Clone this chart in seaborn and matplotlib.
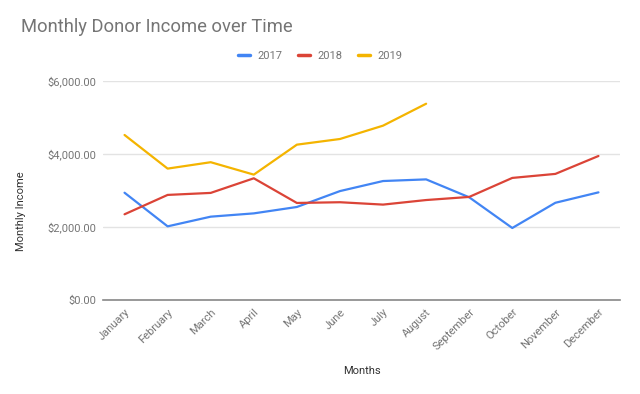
import pandas as pd
import seaborn as sns
import matplotlib.pyplot as plt

# Data
MONTHS = ["January", "February", "March", "April", "May", "June",
          "July", "August", "September", "October", "November", "December"]
INCOME_2017 = [2935, 2015, 2280, 2370, 2545, 2980, 3255, 3300, 2810, 1970, 2660, 2945]
INCOME_2018 = [2345, 2875, 2930, 3330, 2655, 2675, 2610, 2735, 2820, 3340, 3450, 3940]
INCOME_2019 = [4515, 3595, 3770, 3430, 4250, 4405, 4770, 5370]
YEARS = ["2017", "2018", "2019"]
Y_TICKS = [0, 2000, 4000, 6000]

COLORS = {"2017": "#4285F4", "2018": "#DB4437", "2019": "#F4B400"}
TEXT = "#757575"

rows = []
for year, values in zip(YEARS, [INCOME_2017, INCOME_2018, INCOME_2019]):
    for i, v in enumerate(values):
        rows.append({"month": i, "income": v, "year": year})
df = pd.DataFrame(rows)

sns.set_style("white")
plt.rcParams["font.family"] = ["Roboto", "DejaVu Sans"]

fig = plt.figure(figsize=(6.4, 3.94), dpi=100)
ax = fig.add_axes([103 / 640, 1 - 300 / 394, 517 / 640, 219.3 / 394])

sns.lineplot(data=df, x="month", y="income", hue="year", palette=COLORS,
             linewidth=1.6, ax=ax, legend=False)

ax.set_xlim(-0.5, 11.5)
ax.set_ylim(0, 6000)
ax.set_yticks(Y_TICKS)
ax.set_yticklabels([f"${v:,.2f}" for v in Y_TICKS], color=TEXT, fontsize=8)
ax.set_xticks(range(len(MONTHS)))
ax.set_xticklabels(MONTHS, rotation=45, ha="right", rotation_mode="anchor",
                   color=TEXT, fontsize=8)
ax.tick_params(axis="both", length=0, pad=5)

ax.grid(axis="y", color="#e3e3e3", linewidth=1)
ax.set_axisbelow(True)
for side in ["top", "right", "left"]:
    ax.spines[side].set_visible(False)
ax.spines["bottom"].set_color("#888888")
ax.spines["bottom"].set_linewidth(1.2)

ax.set_xlabel("Months", color="#333333", fontsize=8)
ax.xaxis.set_label_coords(0.5, -(366 - 300) / 219.3)
ax.set_ylabel("Monthly Income", color="#333333", fontsize=8)
ax.yaxis.set_label_coords(-(103 - 26) / 517, (300 - 211) / 219.3)

fig.text(21 / 640, 1 - 27 / 394, "Monthly Donor Income over Time",
         fontsize=13.2, color=TEXT, va="center", ha="left")

handles = [plt.Line2D([], [], color=COLORS[y], linewidth=2.5) for y in YEARS]
fig.legend(handles, YEARS, loc="center", bbox_to_anchor=(320 / 640, 1 - 56 / 394),
           ncol=3, frameon=False, handlelength=1.1, columnspacing=1.45,
           handletextpad=0.6, labelcolor=TEXT, fontsize=8)

fig.savefig("out.png", dpi=100)
